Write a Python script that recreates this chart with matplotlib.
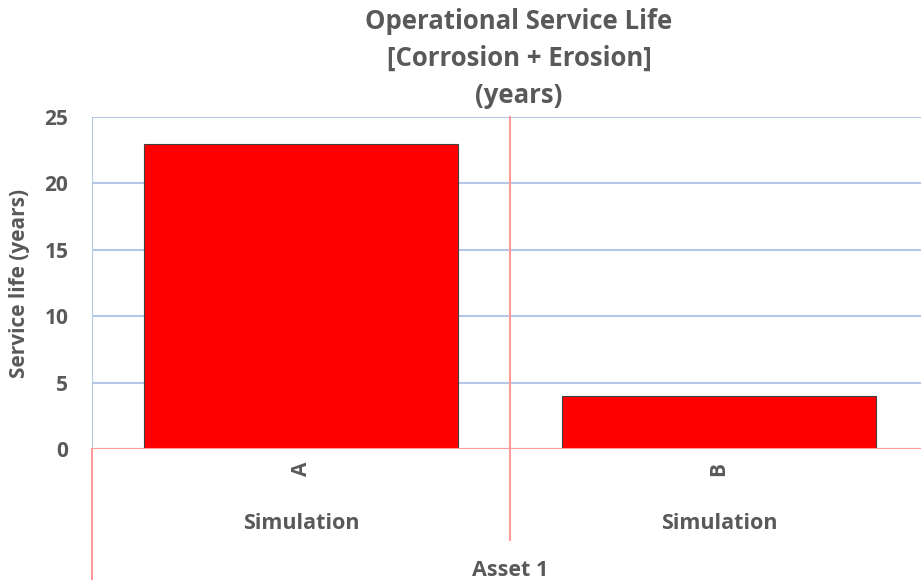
import matplotlib.pyplot as plt
import matplotlib.transforms as mtransforms

# данные
categories = ['A', 'B']
values = [23, 4]
group_label = 'Simulation'
outer_label = 'Asset 1'
title = 'Operational Service Life\n[Corrosion + Erosion]\n(years)'
ylabel = 'Service life (years)'

grey = '#595959'
grid_blue = '#b4c7e7'
line_red = '#ff9a9a'

plt.rcParams['font.family'] = ['Open Sans', 'DejaVu Sans']
plt.rcParams['font.weight'] = 'bold'

fig = plt.figure(figsize=(9.21, 5.8), dpi=100)
W, H = 921, 580
ax = fig.add_axes([92 / W, (H - 449) / H, (928 - 92) / W, (449 - 117) / H])

x = list(range(len(categories)))
ax.bar(x, values, width=0.75, color='#ff0000', edgecolor='#404040', linewidth=0.8, zorder=3)

ax.set_xlim(-0.5, len(categories) - 0.5)
ax.set_ylim(0, 25)
ax.set_yticks(range(0, 26, 5))
ax.yaxis.grid(True, color=grid_blue, linewidth=1.5, zorder=0)
ax.tick_params(axis='y', length=0, pad=17, labelsize=15, labelcolor=grey)
ax.set_yticklabels([str(v) for v in range(0, 26, 5)], fontweight='bold')
ax.set_xticks([])
for s in ax.spines.values():
    s.set_visible(False)

# оси и разделители
ax.axvline(-0.5, ymin=0, ymax=1, color=grid_blue, linewidth=1.5, zorder=1)
ax.axhline(0, color=line_red, linewidth=1.5, zorder=4)
trans = mtransforms.blended_transform_factory(ax.transData, ax.transAxes)
ax.plot([-0.5, -0.5], [0, -0.4], color=line_red, linewidth=1.5, transform=trans, clip_on=False)
for i in range(1, len(categories)):
    ax.plot([i - 0.5, i - 0.5], [1, -0.274], color=line_red, linewidth=1.5, transform=trans,
            clip_on=False, zorder=4)

# подписи категорий
for i, c in enumerate(categories):
    ax.text(i, -0.06, c, rotation=90, ha='center', va='center', transform=trans,
            fontsize=15, color=grey, fontweight='bold')
    ax.text(i, -0.225, group_label, ha='center', va='center', transform=trans,
            fontsize=15.5, color=grey, fontweight='bold')
fig.text(510 / W, 1 - 570 / H, outer_label, ha='center', va='center',
         fontsize=15.5, color=grey, fontweight='bold')

fig.text(20 / W, 1 - 283 / H, ylabel, rotation=90, ha='center', va='center',
         fontsize=15, color=grey, fontweight='bold')
fig.text(519 / W, 1 - 58.5 / H, title, ha='center', va='center', fontsize=18.5,
         color=grey, fontweight='bold', linespacing=1.46)

fig.savefig('out.png', dpi=100)
